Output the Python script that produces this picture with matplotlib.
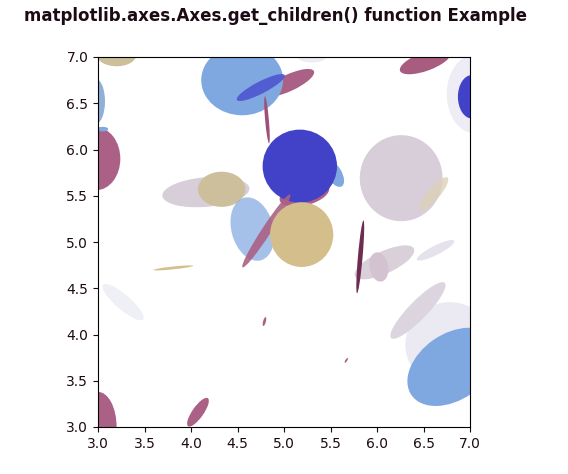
import numpy as np
import matplotlib
matplotlib.use("Agg")
import matplotlib.pyplot as plt
from matplotlib.patches import Ellipse

# ── Ellipse data (drawn bottom → top) ─────────────────────────────────────────
BLUE, LBLUE, MAUVE, TAN = "#4242c9", "#7fa7e0", "#ab6085", "#d4be8c"
LILAC, PALE = "#d8ced9", "#ebe9f2"

cx = [6.78, 7.05, 5.30, 3.27, 6.26, 6.61, 6.44, 6.08, 6.02, 6.63,
      6.81, 3.20, 2.98, 2.98, 3.05, 2.98, 3.00, 4.075, 5.05, 4.55,
      4.75, 4.817, 5.54, 5.22, 5.17, 4.16, 4.33, 4.66, 4.81, 5.19,
      3.81, 4.79, 5.82, 6.52, 7.02, 5.67]
cy = [3.89, 6.60, 7.00, 4.35, 5.69, 5.52, 4.26, 4.78, 4.73, 4.91,
      3.65, 7.02, 6.52, 5.90, 6.22, 5.45, 3.00, 3.16, 6.72, 6.75,
      6.67, 6.32, 5.74, 5.52, 5.82, 5.54, 5.57, 5.14, 5.12, 5.08,
      4.72, 4.14, 4.84, 6.95, 6.57, 3.72]
widths = [0.95, 0.60, 0.30, 0.57, 0.89, 0.46, 0.83, 0.70, 0.20, 0.45,
          1.07, 0.42, 0.19, 0.52, 0.12, 0.06, 0.40, 0.37, 0.60, 0.88,
          0.58, 0.04, 0.32, 0.55, 0.80, 0.94, 0.51, 0.45, 0.94, 0.68,
          0.43, 0.03, 0.05, 0.58, 0.30, 0.02]
heights = [0.92, 0.85, 0.12, 0.16, 0.93, 0.13, 0.20, 0.24, 0.32, 0.10,
           0.71, 0.24, 0.48, 0.68, 0.05, 0.06, 0.76, 0.12, 0.18, 0.76,
           0.13, 0.51, 0.16, 0.25, 0.79, 0.32, 0.38, 0.70, 0.10, 0.70,
           0.03, 0.10, 0.79, 0.20, 0.47, 0.06]
angles = [0, 0, 0, -41, 0, 50, 46, 25, 10, 27,
          35, 0, 0, 0, 0, 0, 0, 55, 25, 0,
          27.5, 5, -60, 15, 0, 5, 0, 15, 57, 0,
          6, -15, -5, 20, 0, -30]
colors = [PALE, "#eeecf4", "#eeecf4", "#efeff6", LILAC, "#ddd0b8", "#dcd5df",
          "#dad0da", "#d3c3d0", "#e6e2eb",
          LBLUE, "#cdbf9c", "#90b0d8", MAUVE, LBLUE, TAN, MAUVE, MAUVE, MAUVE, LBLUE,
          "#4a50d0", "#a05078", LBLUE, MAUVE, BLUE, LILAC, "#cdbf9b", LBLUE, MAUVE, TAN,
          TAN, MAUVE, "#6e2c50", "#a85c80", BLUE, MAUVE]
alphas = [1, 1, 1, 1, 1, 0.8, 1, 1, 1, 1,
          1, 1, 1, 1, 1, 1, 1, 1, 1, 1,
          0.85, 1, 1, 1, 1, 1, 1, 0.7, 0.9, 1,
          1, 1, 1, 1, 1, 1]

TEXT = "#1c0a14"

fig = plt.figure(figsize=(5.68, 4.74), dpi=100)
ax = fig.add_axes([98 / 568, 47 / 474, 372 / 568, 370 / 474])

for x, y, w, h, a, c, al in zip(cx, cy, widths, heights, angles, colors, alphas):
    e = Ellipse((x, y), w, h, angle=a, facecolor=c, edgecolor="none", alpha=al)
    e.set_clip_box(ax.bbox)
    ax.add_artist(e)

ax.set_xlim(3, 7)
ax.set_ylim(3, 7)
ax.set_xticks(np.arange(3, 7.01, 0.5))
ax.set_yticks(np.arange(3, 7.01, 0.5))
ax.tick_params(colors=TEXT, labelsize=10)

fig.text(276 / 568, 1 - 16 / 474, "matplotlib.axes.Axes.get_children() function Example",
         ha="center", va="center", fontsize=12, fontweight="bold", color=TEXT)

fig.savefig("out.png", dpi=100)
